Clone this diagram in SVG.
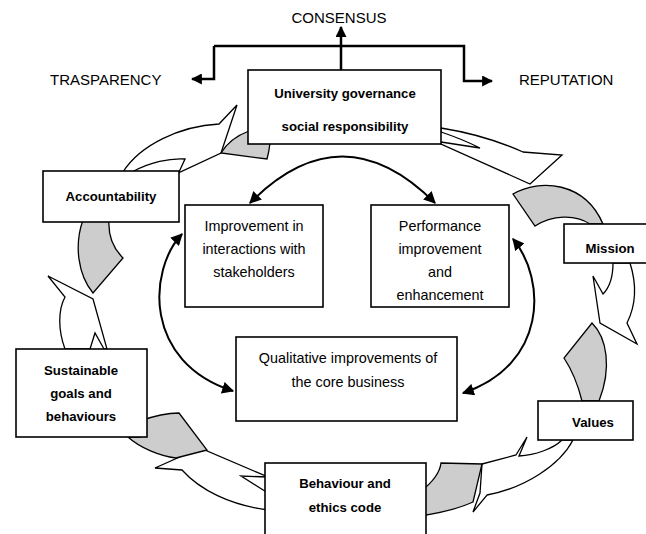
<svg xmlns="http://www.w3.org/2000/svg" width="646" height="534" viewBox="0 0 646 534">
<defs>
<style>
.box{fill:#fff;stroke:#000;stroke-width:1.6}
.w{fill:#fff;stroke:#000;stroke-width:1.3;stroke-linejoin:miter}
.g{fill:#cdcdcd;stroke:#000;stroke-width:1.3}
.arc{fill:none;stroke:#000;stroke-width:2}
.br{fill:none;stroke:#000;stroke-width:2.5}
.t{font-family:"Liberation Sans",Arial,sans-serif;font-size:14.4px;fill:#000;text-anchor:middle}
.b{font-family:"Liberation Sans",Arial,sans-serif;font-size:13.2px;font-weight:bold;fill:#000;text-anchor:middle}
.cap{font-family:"Liberation Sans",Arial,sans-serif;font-size:15px;fill:#000}
</style>
<marker id="ah" viewBox="0 0 10 10" refX="9" refY="5" markerWidth="6" markerHeight="6" orient="auto-start-reverse" markerUnits="strokeWidth">
<path d="M0,0 L10,5 L0,10 Z" fill="#000"/>
</marker>
<marker id="ah2" viewBox="0 0 10 10" refX="9" refY="5" markerWidth="4.4" markerHeight="4.4" orient="auto-start-reverse" markerUnits="strokeWidth">
<path d="M0,0 L10,5 L0,10 Z" fill="#000"/>
</marker>
</defs>
<rect width="646" height="534" fill="#fff"/>

<g id="connectors">
<!-- cycle arrows -->
<path class="w" d="M441,128 Q485,135 523,152 L562,155 L530,184 L441,144 Z"/>
<path class="w" d="M441,132 Q462,139 480,148 L441,142"/>
<path class="g" d="M513,194 C540,178 585,182 603,224 L590,224 C575,214 552,215 535,226 Z"/>
<path class="w" d="M613,263 C613,275 610,287 603,294 L593,276 L600,323 L637,344 L627,323 C636,305 637,285 630,263 Z"/>
<path class="g" d="M592,323 C607,338 612,368 599,401 L582,401 C578,385 572,370 564,358 Z"/>
<path class="w" d="M482,464 L516,455 L527,437 L519,456 C535,455 553,449 562,440 L573,440 C560,465 525,488 487,495 L473,512 L480,493 Z"/>
<path class="g" d="M420,492 C433,482 440,472 441,463 L482,464 L473,502 C460,508 440,513 420,516 Z"/>
<path class="w" d="M155,468 L200,448 L268,477 L268,510 C230,505 200,490 182,470 Z"/>
<path class="w" d="M268,477 L241,476 L268,493"/>
<path class="g" d="M140,421 Q162,413 179,413 L207,450 L176,458 C160,456 140,448 128,437 L140,437 Z"/>
<path class="w" d="M65,349 C58,330 58,310 65,297 L48,276 L93,299 L107,349 Z"/>
<path class="w" d="M90,349 L95,333 L104,349"/>
<path class="g" d="M83,220 C74,245 78,275 93,293 L123,258 C113,248 108,235 109,220 Z"/>
<path class="w" d="M123,172 C140,145 180,126 219,124 L237,105 L221,153 L178,173 Z"/>
<path class="w" d="M132,172 C150,162 170,158 185,159 L179,172"/>
<path class="g" d="M221,153 Q230,138 249,131 L249,143 L270,143 Q269,152 267,159 Z"/>
<!-- inner bidirectional arrows -->
<path class="arc" marker-start="url(#ah)" marker-end="url(#ah)" d="M250,203 Q342,110 435,203"/>
<path class="arc" marker-start="url(#ah)" marker-end="url(#ah)" d="M182,234 C148,270 143,362 233,391"/>
<path class="arc" marker-start="url(#ah)" marker-end="url(#ah)" d="M513,239 C547,280 547,365 463,393"/>
<!-- top bracket -->
<path class="br" marker-end="url(#ah2)" d="M341,70 L341,27"/>
<path class="br" marker-end="url(#ah2)" d="M214,46 L214,79 L192,79"/>
<path class="br" marker-end="url(#ah2)" d="M214,46 L464,46 L464,81 L492,81"/>
</g>

<text class="cap" x="339" y="23" text-anchor="middle">CONSENSUS</text>
<text class="cap" x="50" y="85">TRASPARENCY</text>
<text class="cap" x="519" y="85">REPUTATION</text>

<g id="n-governance">
<rect class="box" x="248" y="70" width="193" height="74"/>
<text class="b" x="345" y="98">University governance</text>
<text class="b" x="345" y="131">social responsibility</text>
</g>
<g id="n-accountability">
<rect class="box" x="43" y="171" width="136" height="51"/>
<text class="b" x="111" y="201">Accountability</text>
</g>
<g id="n-interactions">
<rect class="box" x="185" y="205" width="138" height="102"/>
<text class="t" x="254" y="231">Improvement in</text>
<text class="t" x="254" y="254">interactions with</text>
<text class="t" x="254" y="277">stakeholders</text>
</g>
<g id="n-performance">
<rect class="box" x="371" y="205" width="138" height="102"/>
<text class="t" x="440" y="231">Performance</text>
<text class="t" x="440" y="254">improvement</text>
<text class="t" x="440" y="277">and</text>
<text class="t" x="440" y="300">enhancement</text>
</g>
<g id="n-mission">
<rect class="box" x="564" y="224" width="86" height="39"/>
<text class="b" x="610" y="253">Mission</text>
</g>
<g id="n-qualitative">
<rect class="box" x="236" y="337" width="221" height="84"/>
<text class="t" x="348" y="363">Qualitative improvements of</text>
<text class="t" x="348" y="387">the core business</text>
</g>
<g id="n-sustainable">
<rect class="box" x="16" y="349" width="131" height="88"/>
<text class="b" x="81" y="375">Sustainable</text>
<text class="b" x="81" y="398">goals and</text>
<text class="b" x="81" y="421">behaviours</text>
</g>
<g id="n-values">
<rect class="box" x="538" y="401" width="95" height="39"/>
<text class="b" x="593" y="427">Values</text>
</g>
<g id="n-behaviour">
<rect class="box" x="265" y="463" width="161" height="75"/>
<text class="b" x="345" y="488">Behaviour and</text>
<text class="b" x="345" y="512">ethics code</text>
</g>
</svg>
